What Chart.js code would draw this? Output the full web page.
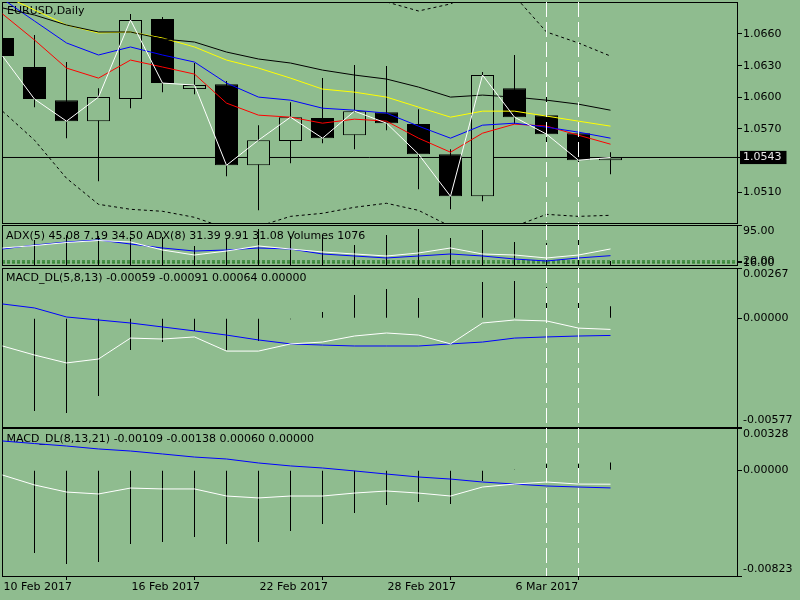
<!DOCTYPE html>
<html><head><meta charset="utf-8">
<script src="https://cdn.jsdelivr.net/npm/chart.js@4.4.1/dist/chart.umd.min.js"></script>
<style>
html,body{margin:0;padding:0;background:#8fbc8f;width:800px;height:600px;overflow:hidden;}
canvas{position:absolute;left:0;}
</style></head><body>
<canvas id="c1" width="800" height="225" style="top:0px"></canvas>
<canvas id="c2" width="800" height="44" style="top:223px"></canvas>
<canvas id="c3" width="800" height="163" style="top:266px"></canvas>
<canvas id="c4" width="800" height="174" style="top:426px"></canvas>
<script>
// ---------------- DATA ----------------
const dates = ['10 Feb 2017','13 Feb 2017','14 Feb 2017','15 Feb 2017','16 Feb 2017','17 Feb 2017','20 Feb 2017','21 Feb 2017','22 Feb 2017','23 Feb 2017','24 Feb 2017','27 Feb 2017','28 Feb 2017','1 Mar 2017','2 Mar 2017','3 Mar 2017','6 Mar 2017','7 Mar 2017','8 Mar 2017','9 Mar 2017'];
const dateTickIdx = [0, 4, 8, 12, 16];

const opens  = [1.06562,1.06287,1.05973,1.05774,1.05983,1.06742,1.06078,1.06125,1.05356,1.05585,1.05803,1.05641,1.05859,1.05746,1.05461,1.05062,1.06087,1.05831,1.05660,1.05404];
const highs  = [1.06600,1.06591,1.06334,1.06087,1.06790,1.06761,1.06325,1.06154,1.05736,1.05954,1.06182,1.06306,1.06296,1.05888,1.05508,1.06239,1.06401,1.06030,1.05670,1.05480];
const lows   = [1.06350,1.05907,1.05613,1.05204,1.05897,1.06049,1.06030,1.05252,1.04929,1.05375,1.05565,1.05508,1.05689,1.05129,1.04939,1.05015,1.05746,1.05575,1.05347,1.05271];
const closes = [1.06391,1.05983,1.05774,1.06002,1.06733,1.06135,1.06116,1.05356,1.05594,1.05812,1.05613,1.05869,1.05755,1.05461,1.05062,1.06211,1.05812,1.05651,1.05404,1.05430];

const maBlack  = [1.06847,1.06780,1.06685,1.06619,1.06619,1.06553,1.06524,1.06429,1.06363,1.06325,1.06258,1.06211,1.06173,1.06097,1.06002,1.06021,1.06002,1.05973,1.05935,1.05878];
const maYellow = [1.06970,1.06828,1.06685,1.06610,1.06619,1.06562,1.06477,1.06353,1.06277,1.06182,1.06078,1.06049,1.06002,1.05907,1.05812,1.05869,1.05869,1.05822,1.05774,1.05727];
const maBlue   = [1.06932,1.06723,1.06515,1.06401,1.06477,1.06401,1.06334,1.06135,1.06002,1.05973,1.05897,1.05878,1.05850,1.05727,1.05613,1.05736,1.05755,1.05717,1.05670,1.05613];
const maRed    = [1.06790,1.06543,1.06277,1.06182,1.06353,1.06287,1.06220,1.05945,1.05831,1.05812,1.05755,1.05793,1.05774,1.05613,1.05480,1.05660,1.05746,1.05727,1.05641,1.05556];
const bandUpper = [1.0795,1.0790,1.0786,1.0782,1.0800,1.0788,1.0780,1.0745,1.0727,1.0706,1.06980,1.06999,1.06904,1.06818,1.06885,1.07037,1.06961,1.06619,1.06515,1.06391];
const bandLower = [1.05869,1.05594,1.05233,1.04986,1.04939,1.04920,1.04863,1.04758,1.04777,1.04872,1.04901,1.04958,1.04996,1.04929,1.04777,1.04739,1.04777,1.04891,1.04872,1.04882];
const bidPrice = 1.0543;
const priceTicks = [1.0510, 1.0543, 1.0570, 1.0600, 1.0630, 1.0660];
const vLineIdx = [17, 18];

const adxFast = [47.1,52.2,58.5,62.7,59.6,42.9,32.5,40.8,51.3,45.0,38.8,34.6,30.4,36.7,47.1,34.6,32.5,26.3,32.5,45.08];
const adxSlow = [45.0,53.3,59.6,63.8,55.4,47.1,40.8,42.9,47.1,45.0,34.6,30.4,26.3,30.4,34.6,30.4,24.2,20.0,26.3,31.08];
const volumes = [7000,6720,8070,7800,7530,7530,5110,7260,9680,7800,7800,5380,8070,9680,7260,9420,6190,5920,6720,1076];
const adxLevels = [20, 16];
const adxTicks = [95, 20, 16];
const adxTickLabels = [['', '95.00'], '20.00', '16.00'];

const macd1Hist   = [-0.0045,-0.00492,-0.00503,-0.00412,-0.00168,-0.00126,-0.00067,-0.00168,-0.00120,-0.00005,0.00033,0.00124,0.00156,0.00108,0.00000,0.00193,0.00198,0.00166,0.00097,0.00064];
const macd1Main   = [-0.00147,-0.00195,-0.00237,-0.00216,-0.00105,-0.00110,-0.00099,-0.00174,-0.00174,-0.00136,-0.00126,-0.00094,-0.00078,-0.00089,-0.00136,-0.00025,-0.00009,-0.00014,-0.00052,-0.00059];
const macd1Signal = [0.00076,0.00055,0.00007,-0.00009,-0.00025,-0.00046,-0.00067,-0.00089,-0.00115,-0.00136,-0.00142,-0.00147,-0.00147,-0.00147,-0.00136,-0.00126,-0.00105,-0.00099,-0.00094,-0.00091];
const macd1Ticks = [0.00267, 0, -0.00577];
const macd1TickLabels = [['', '0.00267'], '0.00000', ['-0.00577', '']];

const macd2Hist   = [-0.0055,-0.00644,-0.00730,-0.00714,-0.00574,-0.00559,-0.00520,-0.00574,-0.00559,-0.00473,-0.00419,-0.00333,-0.00271,-0.00248,-0.00263,-0.00084,0.00005,0.00048,0.00048,0.00060];
const macd2Main   = [-0.00038,-0.00115,-0.00170,-0.00185,-0.00139,-0.00146,-0.00146,-0.00201,-0.00216,-0.00201,-0.00201,-0.00178,-0.00162,-0.00178,-0.00201,-0.00131,-0.00108,-0.00092,-0.00108,-0.00109];
const macd2Signal = [0.00227,0.00207,0.00188,0.00165,0.00149,0.00126,0.00102,0.00087,0.00056,0.00033,0.00017,-0.00006,-0.00030,-0.00053,-0.00069,-0.00092,-0.00108,-0.00123,-0.00131,-0.00138];
const macd2Ticks = [0.00328, 0, -0.00823];
const macd2TickLabels = [['', '0.00328'], '0.00000', ['-0.00823', '']];

const titleMain  = 'EURUSD,Daily';
const titleAdx   = 'ADX(5) 45.08 7.19 34.50 ADX(8) 31.39 9.91 31.08 Volumes 1076';
const titleMacd1 = 'MACD_DL(5,8,13) -0.00059 -0.00091 0.00064 0.00000';
const titleMacd2 = 'MACD_DL(8,13,21) -0.00109 -0.00138 0.00060 0.00000';

// ---------------- SETUP ----------------
const BG = '#8fbc8f';
const FONT = '"DejaVu Sans"';
Chart.defaults.font.family = FONT;
Chart.defaults.font.size = 11;
Chart.defaults.color = '#000';

const X_MIN = -0.015625, X_MAX = 22.953125;
const P_MIN = 1.048091, P_MAX = 1.069032;
const A_MIN = 11.67, A_MAX = 95;
const M1_MIN = -0.00577, M1_MAX = 0.00267;
const M2_MIN = -0.00823, M2_MAX = 0.00328;

const pts = arr => arr.map((v, i) => ({x: i, y: v}));

const captionPlugin = {
  id: 'caption',
  beforeDatasetsDraw(chart, args, opts) {
    const ctx = chart.ctx, a = chart.chartArea;
    ctx.save();
    ctx.font = '11px ' + FONT;
    ctx.fillStyle = '#000';
    ctx.textBaseline = 'middle';
    ctx.textAlign = 'left';
    ctx.fillText(opts.text, a.left + opts.dx, a.top + opts.dy);
    ctx.restore();
  }
};

function frameScales() {
  return {
    x: {type: 'linear', position: 'bottom', min: X_MIN, max: X_MAX, offset: false,
        grid: {display: false, drawTicks: false}, ticks: {display: false},
        border: {display: true, color: '#000', width: 1},
        afterFit(s) { s.height = 0; s.paddingLeft = 0; s.paddingRight = 0; }},
    xTop: {type: 'linear', position: 'top', min: X_MIN, max: X_MAX, offset: false,
        grid: {display: false, drawTicks: false}, ticks: {display: false},
        border: {display: true, color: '#000', width: 1},
        afterFit(s) { s.height = 0; }},
    yLeft: {type: 'linear', position: 'left', min: 0, max: 1,
        grid: {display: false, drawTicks: false}, ticks: {display: false},
        border: {display: true, color: '#000', width: 1},
        afterFit(s) { s.width = 0; }}
  };
}

function rightAxis(min, max, vals, labels, extra) {
  return {
    type: 'linear', position: 'right', min: min, max: max,
    grid: {display: true, drawOnChartArea: false, drawTicks: true, tickLength: 5, color: '#000', lineWidth: 1},
    border: {display: true, color: '#000', width: 1},
    ticks: Object.assign({autoSkip: false, padding: 1, color: '#000', font: {family: FONT, size: 11},
      callback: (v, i) => labels[i]}, extra || {}),
    afterBuildTicks(s) { s.ticks = vals.map(v => ({value: v})); },
    afterFit(s) { s.width = 63; s.paddingTop = 0; s.paddingBottom = 0; }
  };
}

function lineDS(arr, color, extra) {
  return Object.assign({type: 'line', data: pts(arr), borderColor: color, borderWidth: 1,
    pointRadius: 0, pointHoverRadius: 0, tension: 0, fill: false,
    xAxisID: 'x', yAxisID: 'y', order: 0}, extra || {});
}
function hLineDS(v, color, extra) {
  return Object.assign({type: 'line', data: [{x: X_MIN, y: v}, {x: X_MAX, y: v}], borderColor: color,
    borderWidth: 1, pointRadius: 0, fill: false, xAxisID: 'x', yAxisID: 'y', order: 4}, extra || {});
}
function vLineDS(i, lo, hi) {
  return {type: 'line', data: [{x: i, y: hi}, {x: i, y: lo}], borderColor: '#ffffff', borderWidth: 1,
    borderDash: [15, 5], pointRadius: 0, fill: false, xAxisID: 'x', yAxisID: 'y', order: -1};
}
function histDS(arr, axis) {
  return {type: 'bar', data: pts(arr), backgroundColor: '#000', borderWidth: 0, barThickness: 1,
    grouped: false, inflateAmount: 0, xAxisID: 'x', yAxisID: axis || 'y', order: 2};
}
function options(pad, scales, caption) {
  return {
    responsive: false, animation: false, events: [],
    layout: {padding: pad, autoPadding: false},
    plugins: {legend: {display: false}, tooltip: {enabled: false}, caption: caption},
    scales: scales
  };
}

// ---------------- PANEL 1: PRICE ----------------
const isBid = c => c.tick && Math.abs(c.tick.value - bidPrice) < 1e-9;
const s1 = frameScales();
s1.y = rightAxis(P_MIN, P_MAX, priceTicks, priceTicks.map(v => v.toFixed(4)), {
  color: c => isBid(c) ? '#e6e6e6' : '#000',
  showLabelBackdrop: c => isBid(c),
  backdropColor: '#000',
  backdropPadding: {top: 0, bottom: 0, left: 3, right: 5}
});
new Chart(document.getElementById('c1'), {
  type: 'line',
  data: {datasets: [
    ...vLineIdx.map(i => vLineDS(i, P_MIN, P_MAX)),
    lineDS(closes, '#ffffff'),
    lineDS(maBlack, '#000000'),
    lineDS(maYellow, '#ffff00'),
    lineDS(maBlue, '#0000ff'),
    lineDS(maRed, '#ff0000'),
    lineDS(bandUpper, '#000000', {borderDash: [3, 3]}),
    lineDS(bandLower, '#000000', {borderDash: [3, 3]}),
    {type: 'bar', data: opens.map((o, i) => ({x: i, y: [o, closes[i]]})),
      backgroundColor: opens.map((o, i) => closes[i] < o ? '#000000' : BG),
      borderColor: '#000', borderWidth: 1, borderSkipped: false, barThickness: 23,
      grouped: false, inflateAmount: 0, xAxisID: 'x', yAxisID: 'y', order: 1},
    {type: 'bar', data: lows.map((l, i) => ({x: i, y: [l, highs[i]]})),
      backgroundColor: '#000', borderWidth: 0, barThickness: 1,
      grouped: false, inflateAmount: 0, xAxisID: 'x', yAxisID: 'y', order: 2},
    hLineDS(bidPrice, '#000000')
  ]},
  options: options({left: 2, top: 2, right: 0, bottom: 2}, s1, {text: titleMain, dx: 5, dy: 9.5}),
  plugins: [captionPlugin]
});

// ---------------- PANEL 2: ADX + VOLUMES ----------------
const s2 = frameScales();
s2.y = rightAxis(A_MIN, A_MAX, adxTicks, adxTickLabels);
s2.yv = {type: 'linear', display: false, min: 0, max: 10760};
new Chart(document.getElementById('c2'), {
  type: 'line',
  data: {datasets: [
    ...vLineIdx.map(i => vLineDS(i, A_MIN, A_MAX)),
    lineDS(adxFast, '#ffffff'),
    lineDS(adxSlow, '#0000ff'),
    histDS(volumes, 'yv'),
    ...adxLevels.map(v => hLineDS(v, '#006400', {borderDash: [3, 2]}))
  ]},
  options: options({left: 2, top: 2, right: 0, bottom: 2}, s2, {text: titleAdx, dx: 4, dy: 11.5}),
  plugins: [captionPlugin]
});

// ---------------- PANEL 3: MACD (5,8,13) ----------------
const s3 = frameScales();
s3.y = rightAxis(M1_MIN, M1_MAX, macd1Ticks, macd1TickLabels);
new Chart(document.getElementById('c3'), {
  type: 'line',
  data: {datasets: [
    ...vLineIdx.map(i => vLineDS(i, M1_MIN, M1_MAX)),
    lineDS(macd1Main, '#ffffff'),
    lineDS(macd1Signal, '#0000ff'),
    histDS(macd1Hist)
  ]},
  options: options({left: 2, top: 2, right: 0, bottom: 2}, s3, {text: titleMacd1, dx: 4, dy: 10}),
  plugins: [captionPlugin]
});

// ---------------- PANEL 4: MACD (8,13,21) + DATE AXIS ----------------
const s4 = frameScales();
s4.x = {type: 'linear', position: 'bottom', min: X_MIN, max: X_MAX, offset: false,
  grid: {display: true, drawOnChartArea: false, drawTicks: true, tickLength: 4, color: '#000', lineWidth: 1},
  border: {display: true, color: '#000', width: 1},
  ticks: {display: true, autoSkip: false, maxRotation: 0, minRotation: 0, align: 'start', padding: 1,
    labelOffset: 1, color: '#000', font: {family: FONT, size: 11}, callback: v => dates[v]},
  afterBuildTicks(s) { s.ticks = dateTickIdx.map(v => ({value: v})); },
  afterFit(s) { s.height = 24; s.paddingLeft = 0; s.paddingRight = 0; }};
s4.y = rightAxis(M2_MIN, M2_MAX, macd2Ticks, macd2TickLabels);
new Chart(document.getElementById('c4'), {
  type: 'line',
  data: {datasets: [
    ...vLineIdx.map(i => vLineDS(i, M2_MIN, M2_MAX)),
    lineDS(macd2Main, '#ffffff'),
    lineDS(macd2Signal, '#0000ff'),
    histDS(macd2Hist)
  ]},
  options: options({left: 2, top: 2, right: 0, bottom: 0}, s4, {text: titleMacd2, dx: 4.5, dy: 11}),
  plugins: [captionPlugin]
});
</script>
</body></html>
